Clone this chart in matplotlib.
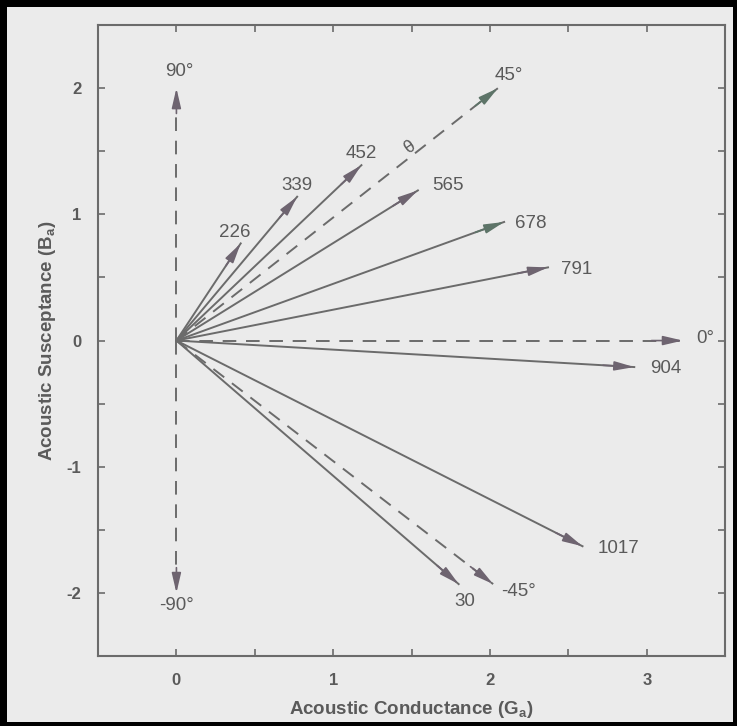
import matplotlib
matplotlib.use("Agg")
import numpy as np
from matplotlib import pyplot as plt
from matplotlib.patches import Rectangle

# frequency vectors (Hz) : tip of each admittance vector
freq_labels = ["226", "339", "452", "565", "678", "791", "904", "1017", "30"]
freq_g = [0.41, 0.77, 1.18, 1.54, 2.09, 2.37, 2.92, 2.59, 1.80]
freq_b = [0.77, 1.14, 1.39, 1.19, 0.94, 0.58, -0.21, -1.63, -1.93]
freq_lab_g = [0.37, 0.77, 1.18, 1.73, 2.26, 2.55, 3.12, 2.82, 1.84]
freq_lab_b = [0.86, 1.23, 1.48, 1.23, 0.93, 0.56, -0.22, -1.65, -2.07]

# reference phase-angle vectors (dashed)
angle_labels = ["90°", "45°", "0°", "-45°", "-90°"]
angle_g = [0.0, 2.05, 3.23, 2.02, 0.0]
angle_b = [2.0, 2.0, 0.0, -1.93, -2.0]
angle_lab_g = [0.02, 2.12, 3.37, 2.18, 0.0]
angle_lab_b = [2.13, 2.10, 0.02, -1.99, -2.10]

bg = "#ebebeb"
ink = "#6b6b6b"
txt = "#5a5a5a"

plt.rcParams["font.family"] = ["Liberation Sans", "DejaVu Sans"]
plt.rcParams["mathtext.default"] = "regular"
plt.rcParams["axes.unicode_minus"] = False

fig = plt.figure(figsize=(7.37, 7.26), dpi=100, facecolor=bg)
ax = fig.add_axes([0.133, 0.0964, 0.851, 0.869], facecolor=bg)


def vector(g, b, dashed, head_color):
    ls = (0, (7, 5)) if dashed else "-"
    ax.plot([0, g], [0, b], color=ink, lw=1.4, linestyle=ls, zorder=2)
    n = np.hypot(g, b)
    ax.annotate("", xy=(g, b), xytext=(g - 0.2 * g / n, b - 0.2 * b / n),
                arrowprops=dict(arrowstyle="-|>,head_length=1.2,head_width=0.28",
                                color=head_color, lw=1.2, shrinkA=0, shrinkB=0),
                zorder=3)


for i, lab in enumerate(freq_labels):
    hc = "#5d7468" if lab == "678" else "#6e6470"
    vector(freq_g[i], freq_b[i], False, hc)
    ax.text(freq_lab_g[i], freq_lab_b[i], lab, ha="center", va="center",
            fontsize=13.5, color=txt)

for i, lab in enumerate(angle_labels):
    hc = "#5d7468" if lab == "45°" else "#6e6470"
    vector(angle_g[i], angle_b[i], True, hc)
    ax.text(angle_lab_g[i], angle_lab_b[i], lab, ha="center", va="center",
            fontsize=13.5, color=txt)

ax.text(1.49, 1.53, "θ", ha="center", va="center", fontsize=13,
        color=txt, rotation=35)

ax.set_xlim(-0.5, 3.5)
ax.set_ylim(-2.5, 2.5)
ax.set_xticks([0, 1, 2, 3])
ax.set_yticks([-2, -1, 0, 1, 2])
ax.set_xticks(np.arange(-0.5, 3.6, 0.5), minor=True)
ax.set_yticks(np.arange(-2.5, 2.6, 0.5), minor=True)
ax.tick_params(which="both", direction="in", top=True, right=True,
               length=5, width=1.2, color=ink)
ax.tick_params(which="major", labelsize=12, labelcolor=txt, pad=12)
for t in ax.get_xticklabels() + ax.get_yticklabels():
    t.set_fontweight("bold")
for s in ax.spines.values():
    s.set_color(ink)
    s.set_linewidth(1.5)

ax.set_xlabel(r"Acoustic Conductance (G$_\mathregular{a}$)", fontsize=13.5,
              fontweight="bold", color=txt, labelpad=8)
ax.set_ylabel(r"Acoustic Susceptance (B$_\mathregular{a}$)", fontsize=13.5,
              fontweight="bold", color=txt, labelpad=6)

# black scan border
for r in [(0, 0, 1, 4 / 726), (0, 1 - 7 / 726, 1, 7 / 726),
          (0, 0, 7 / 737, 1), (1 - 4 / 737, 0, 4 / 737, 1)]:
    fig.add_artist(Rectangle(r[:2], r[2], r[3], transform=fig.transFigure,
                             facecolor="black", edgecolor="none"))

fig.savefig("out.png", dpi=100, facecolor=bg)
